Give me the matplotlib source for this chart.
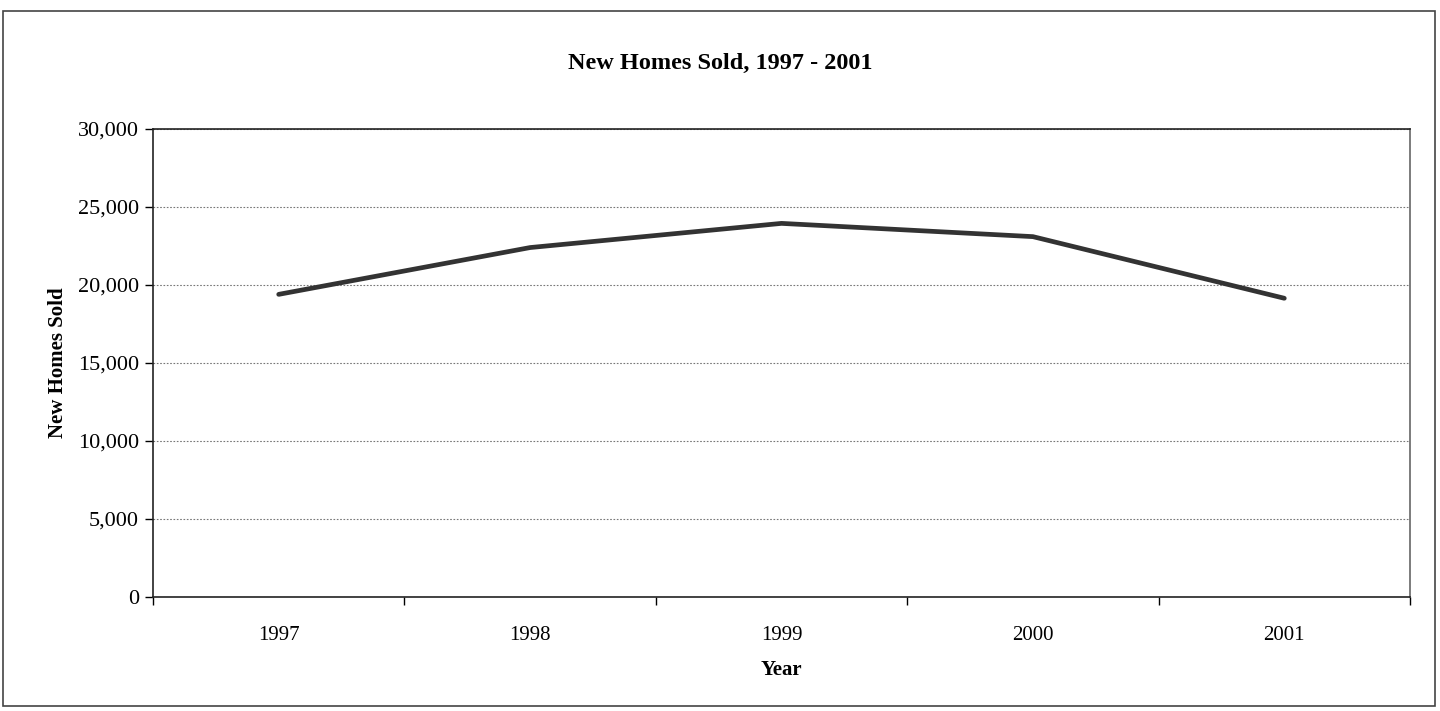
import matplotlib.pyplot as plt
from matplotlib.patches import Rectangle
from matplotlib.ticker import FuncFormatter, FixedLocator

years = ["1997", "1998", "1999", "2000", "2001"]
homes_sold = [19400, 22400, 23950, 23100, 19150]
y_ticks = [0, 5000, 10000, 15000, 20000, 25000, 30000]

plt.rcParams['font.family'] = ['Liberation Serif', 'DejaVu Serif']

fig = plt.figure(figsize=(14.4, 7.11), dpi=100)
fig.patch.set_facecolor('white')

# outer chart border (Excel chart area)
fig.patches.append(Rectangle((3 / 1440, 5 / 711), 1432 / 1440, 695 / 711,
                             transform=fig.transFigure, fill=False,
                             edgecolor='#444444', linewidth=1.2))

ax = fig.add_axes([153 / 1440, 1 - 597 / 711, (1410 - 153) / 1440, (597 - 129) / 711])

x = list(range(len(years)))
ax.plot(x, homes_sold, color='#333333', linewidth=3.4, solid_capstyle='round',
        solid_joinstyle='round', zorder=3)

ax.set_xlim(-0.5, len(years) - 0.5)
ax.set_ylim(0, 30000)
ax.set_yticks(y_ticks)
ax.yaxis.set_major_formatter(FuncFormatter(lambda v, p: f"{int(v):,}"))

# category labels centred, tick marks on boundaries
ax.set_xticks(x)
ax.set_xticklabels(years)
ax.tick_params(axis='x', which='major', length=0, pad=21, labelsize=15)
ax.xaxis.set_minor_locator(FixedLocator([i + 0.5 for i in range(-1, len(years))]))
ax.tick_params(axis='x', which='minor', length=6, width=1, direction='out')
ax.tick_params(axis='y', length=6, width=1, direction='out', labelsize=16, pad=4)

ax.grid(axis='y', which='major', color='#777777', linestyle=(0, (1.5, 1.5)), linewidth=0.8)
ax.set_axisbelow(True)

for side in ['top', 'right', 'bottom', 'left']:
    ax.spines[side].set_color('#222222')
    ax.spines[side].set_linewidth(1.2)
ax.spines['right'].set_color('#666666')

fig.text(720 / 1440, 1 - 63 / 711, "New Homes Sold, 1997 - 2001", fontsize=17.5,
         fontweight='bold', ha='center', va='center')
ax.set_xlabel("Year", fontsize=15, fontweight='bold', labelpad=11)
ax.set_ylabel("New Homes Sold", fontsize=15, fontweight='bold', labelpad=7)

fig.savefig("out.png", dpi=100)
